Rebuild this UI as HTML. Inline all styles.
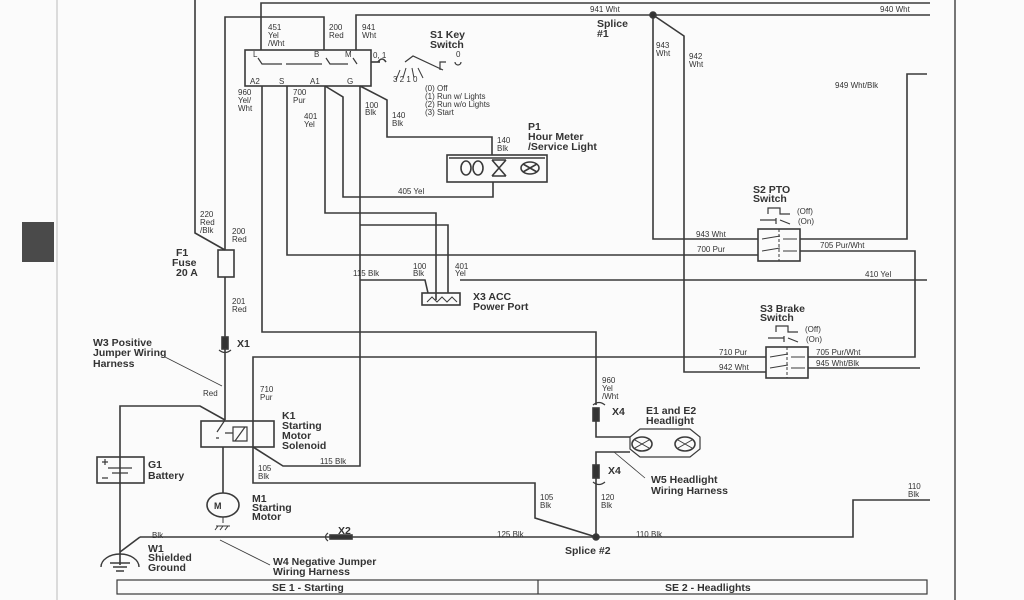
<!DOCTYPE html>
<html><head><meta charset="utf-8"><style>
html,body{margin:0;padding:0;background:#fbfbfb;}
svg{display:block;}
text{font-family:"Liberation Sans",sans-serif;fill:#333;}
.s{font-size:8px;}
.b{font-size:10.5px;font-weight:bold;}
</style></head><body>
<svg width="1024" height="600" viewBox="0 0 1024 600" xmlns="http://www.w3.org/2000/svg">
<g fill="none" stroke="#3a3a3a" stroke-width="1.6">
<!-- borders -->
<line x1="57" y1="0" x2="57" y2="600" stroke="#bbb" stroke-width="1"/>
<line x1="955" y1="0" x2="955" y2="600" stroke="#555"/>
<!-- top wires -->
<polyline points="261,50 261,3 930,3"/>
<polyline points="195,0 195,233 225,250"/>
<polyline points="225,250 225,17 324,17 324,50"/>
<polyline points="356,50 356,15 930,15"/>
<!-- key switch box -->
<rect x="245" y="50" width="126" height="36"/>
<polyline points="262,86 262,332 596,332 596,405"/>
<polyline points="287,86 287,255 758,255"/>
<polyline points="325,86 325,213 436,213 436,293"/>
<polyline points="325,86 343,97 343,197 493,197 493,182"/>
<polyline points="360,86 360,466 283,466 253,447"/>
<polyline points="360,225 448,225 448,293"/>
<polyline points="360,86 387,100 387,137 492,137 492,155"/>
<polyline points="371,62 380,62"/>
<!-- key switch symbol -->
<path d="M378,62 q4,-6 8,0"/>
<path d="M405,62 l8,-6 l30,14 M440,70 l0,-8 l6,0 M455,62 a3,3 0 1 0 6,0" stroke-width="1.2"/>
<path d="M400,70 l-4,10 M406,68 l-3,10 M412,68 l2,10 M418,68 l5,10" stroke-width="1"/>
<!-- internal switch links -->
<path d="M258,58 l4,6 h20 M286,64 h36 M326,58 l4,6 h18 M353,58 l4,6" stroke-width="1.2"/>
<!-- hour meter -->
<rect x="447" y="155" width="100" height="27"/>
<line x1="449" y1="158" x2="545" y2="158"/>
<ellipse cx="466" cy="168" rx="5" ry="7"/><ellipse cx="478" cy="168" rx="5" ry="7"/>
<path d="M492,160 l14,16 M506,160 l-14,16 M492,160 h14 M492,176 h14"/>
<ellipse cx="530" cy="168" rx="9" ry="6"/><path d="M523,164 l14,8 M537,164 l-14,8"/>
<!-- fuse -->
<rect x="218" y="250" width="16" height="27"/>
<polyline points="225,277 225,420"/>
<!-- 115 Blk / X3 -->
<polyline points="360,280 425,280 428,293"/>
<polyline points="460,280 927,280"/>
<polyline points="436,293 436,300 M448,293 448,300"/>
<rect x="422" y="293" width="38" height="12"/>
<path d="M427,302 l5,-5 l5,5 l5,-5 l5,5 l5,-5 l5,5" stroke-width="1"/>
<!-- right side -->
<polyline points="653,15 653,239 758,239"/>
<polyline points="800,239 907,239 907,74 927,74"/>
<polyline points="653,15 684,36 684,372 766,372"/>
<polyline points="800,251 915,251 915,357 808,357"/>
<polyline points="253,447 253,357 766,357"/>
<polyline points="808,368 920,368"/>
<rect x="758" y="229" width="42" height="32"/>
<rect x="766" y="347" width="42" height="31"/>
<path d="M779,229 v32 M787,347 v31" stroke-dasharray="3,2" stroke-width="1"/>
<path d="M762,239 l18,-3 M783,239 h14 M762,251 l18,-3 M783,251 h14 M770,357 l18,-3 M791,357 h14 M770,368 l18,-3 M791,368 h14" stroke-width="1"/>
<path d="M768,214 v-6 h12 v6 h10 M760,220 h16 M776,218 v6 M780,220 l10,4 M776,332 v-6 h12 v6 h10 M768,338 h16 M784,336 v6 M788,338 l10,4" stroke-width="1.2"/>
<!-- headlight -->
<polyline points="596,420 596,437 630,437"/>
<path d="M630,437 l10,-8 h50 l10,8 v12 l-10,8 h-50 l-10,-8 z" stroke-width="1.2"/>
<ellipse cx="642" cy="444" rx="10" ry="7"/><ellipse cx="685" cy="444" rx="10" ry="7"/>
<path d="M635,440 l14,8 M649,440 l-14,8 M678,440 l14,8 M692,440 l-14,8" stroke-width="1"/>
<polyline points="630,452 596,452 596,537"/>
<line x1="614" y1="452" x2="645" y2="478" stroke-width="0.8"/>
<polyline points="596,537 853,537 853,500 930,500"/>
<!-- bottom left -->
<polyline points="253,447 253,483 535,483 535,518 596,537"/>
<polyline points="140,537 596,537"/>
<polyline points="140,537 120,552"/>
<rect x="97" y="457" width="47" height="26"/>
<polyline points="120,565 120,406 200,406 225,420"/>
<path d="M108,468 h24 M112,473 h16 M102,462 h6 M105,459 v6 M102,478 h6" stroke-width="1.2"/>
<rect x="201" y="421" width="73" height="26"/>
<path d="M225,420 l-8,12 M216,438 l3,0 M225,433 h8 M233,427 h14 v14 h-14 z M235,441 l10,-14" stroke-width="1.2"/>
<ellipse cx="223" cy="505" rx="16" ry="12"/>
<line x1="223" y1="447" x2="223" y2="493"/>
<path d="M223,517 v6 M216,526 h14 M218,526 l-3,4 M223,526 l-3,4 M228,526 l-3,4" stroke-width="1"/>
<path d="M101,567 a19,13 0 0 1 38,0 M110,563 h20 M113,567 h14 M116,571 h8" stroke-width="1.4"/>
<line x1="165" y1="357" x2="222" y2="386" stroke-width="0.8"/>
<line x1="220" y1="540" x2="270" y2="565" stroke-width="0.8"/>
<!-- connectors -->
<rect x="222" y="337" width="6" height="12" fill="#333"/>
<path d="M219,350 q6,5 12,0 M593,405 q6,-5 12,0 M593,482 q6,5 12,0 M328,541 q-5,-4 0,-8" stroke-width="1.2"/>
<rect x="593" y="408" width="6" height="13" fill="#333"/>
<rect x="593" y="465" width="6" height="13" fill="#333"/>
<rect x="330" y="535" width="22" height="4" fill="#333"/>
<circle cx="653" cy="15" r="3" fill="#333"/>
<circle cx="596" cy="537" r="3" fill="#333"/>
<!-- SE boxes -->
<rect x="117" y="580" width="810" height="14" stroke-width="1.2"/>
<line x1="538" y1="580" x2="538" y2="594" stroke-width="1.2"/>
</g>
<rect x="22" y="222" width="32" height="40" fill="#4a4a4a"/>
<!-- labels -->
<g class="s">
<text x="268" y="30">451</text><text x="268" y="38">Yel</text><text x="268" y="46">/Wht</text>
<text x="329" y="30">200</text><text x="329" y="38">Red</text>
<text x="362" y="30">941</text><text x="362" y="38">Wht</text>
<text x="253" y="57">L</text><text x="314" y="57">B</text><text x="345" y="57">M</text>
<text x="250" y="84">A2</text><text x="279" y="84">S</text><text x="310" y="84">A1</text><text x="347" y="84">G</text>
<text x="373" y="58">0, 1</text><text x="456" y="57">0</text>
<text x="393" y="82">3  2   1  0</text>
<text x="238" y="95">960</text><text x="238" y="103">Yel/</text><text x="238" y="111">Wht</text>
<text x="293" y="95">700</text><text x="293" y="103">Pur</text>
<text x="304" y="119">401</text><text x="304" y="127">Yel</text>
<text x="365" y="108">100</text><text x="365" y="115">Blk</text>
<text x="392" y="118">140</text><text x="392" y="126">Blk</text>
<text x="425" y="91">(0) Off</text><text x="425" y="99">(1) Run w/ Lights</text><text x="425" y="107">(2) Run w/o Lights</text><text x="425" y="115">(3) Start</text>
<text x="497" y="143">140</text><text x="497" y="151">Blk</text>
<text x="398" y="194">405 Yel</text>
<text x="200" y="217">220</text><text x="200" y="225">Red</text><text x="200" y="233">/Blk</text>
<text x="232" y="234">200</text><text x="232" y="242">Red</text>
<text x="232" y="304">201</text><text x="232" y="312">Red</text>
<text x="353" y="276">115 Blk</text><text x="413" y="269">100</text><text x="413" y="276">Blk</text>
<text x="455" y="269">401</text><text x="455" y="276">Yel</text>
<text x="590" y="12">941 Wht</text><text x="880" y="12">940 Wht</text>
<text x="656" y="48">943</text><text x="656" y="56">Wht</text>
<text x="689" y="59">942</text><text x="689" y="67">Wht</text>
<text x="835" y="88">949 Wht/Blk</text>
<text x="696" y="237">943 Wht</text><text x="697" y="252">700 Pur</text>
<text x="820" y="248">705 Pur/Wht</text><text x="865" y="277">410 Yel</text>
<text x="797" y="214">(Off)</text><text x="798" y="224">(On)</text>
<text x="805" y="332">(Off)</text><text x="806" y="342">(On)</text>
<text x="719" y="355">710 Pur</text><text x="816" y="355">705 Pur/Wht</text>
<text x="719" y="370">942 Wht</text><text x="816" y="366">945 Wht/Blk</text>
<text x="203" y="396">Red</text><text x="260" y="392">710</text><text x="260" y="400">Pur</text>
<text x="602" y="383">960</text><text x="602" y="391">Yel</text><text x="602" y="399">/Wht</text>
<text x="320" y="464">115 Blk</text>
<text x="258" y="471">105</text><text x="258" y="479">Blk</text>
<text x="540" y="500">105</text><text x="540" y="508">Blk</text>
<text x="601" y="500">120</text><text x="601" y="508">Blk</text>
<text x="908" y="489">110</text><text x="908" y="497">Blk</text>
<text x="152" y="538">Blk</text><text x="497" y="537">125 Blk</text><text x="636" y="537">110 Blk</text>
</g>
<g class="b">
<text x="430" y="38">S1 Key</text><text x="430" y="48">Switch</text>
<text x="597" y="27">Splice</text><text x="597" y="37">#1</text>
<text x="528" y="130">P1</text><text x="528" y="140">Hour Meter</text><text x="528" y="150">/Service Light</text>
<text x="176" y="256">F1</text><text x="172" y="266">Fuse</text><text x="176" y="276">20 A</text>
<text x="473" y="300">X3 ACC</text><text x="473" y="310">Power Port</text>
<text x="753" y="193">S2 PTO</text><text x="753" y="202">Switch</text>
<text x="760" y="312">S3 Brake</text><text x="760" y="321">Switch</text>
<text x="237" y="347">X1</text>
<text x="93" y="346">W3 Positive</text><text x="93" y="356">Jumper Wiring</text><text x="93" y="367">Harness</text>
<text x="282" y="419">K1</text><text x="282" y="429">Starting</text><text x="282" y="439">Motor</text><text x="282" y="449">Solenoid</text>
<text x="612" y="415">X4</text><text x="646" y="414">E1 and E2</text><text x="646" y="424">Headlight</text>
<text x="608" y="474">X4</text><text x="651" y="483">W5 Headlight</text><text x="651" y="494">Wiring Harness</text>
<text x="148" y="468">G1</text><text x="148" y="479">Battery</text>
<text x="214" y="509" style="font-size:9px">M</text>
<text x="252" y="502">M1</text><text x="252" y="511">Starting</text><text x="252" y="520">Motor</text>
<text x="338" y="534">X2</text>
<text x="148" y="552">W1</text><text x="148" y="561">Shielded</text><text x="148" y="571">Ground</text>
<text x="273" y="565">W4 Negative Jumper</text><text x="273" y="575">Wiring Harness</text>
<text x="565" y="554">Splice #2</text>
<text x="272" y="591">SE 1 - Starting</text><text x="665" y="591">SE 2 - Headlights</text>
</g>
</svg>
</body></html>
